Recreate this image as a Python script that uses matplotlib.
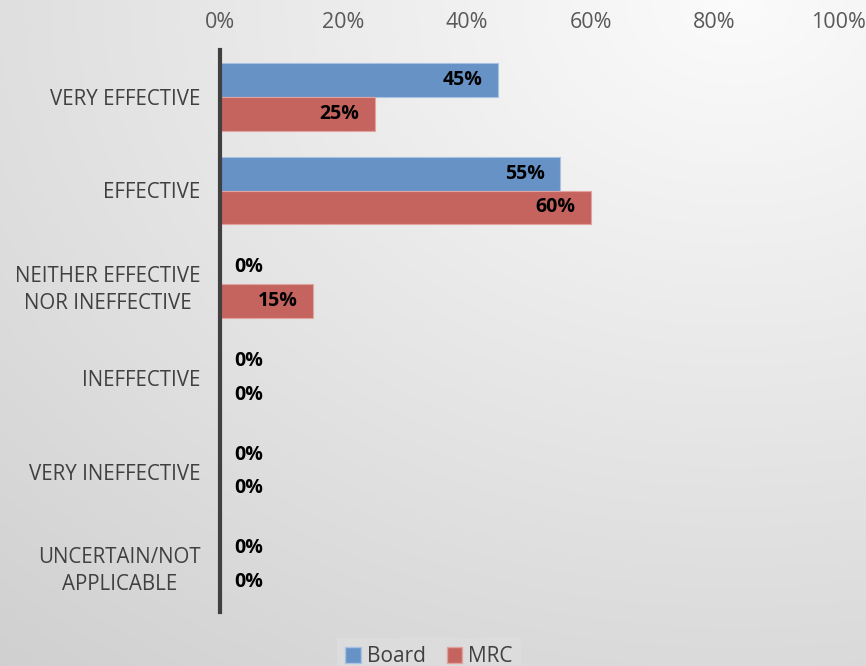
import matplotlib
matplotlib.use("Agg")
import matplotlib.pyplot as plt
import numpy as np
from matplotlib.patches import Patch

categories = ["VERY EFFECTIVE", "EFFECTIVE", "NEITHER EFFECTIVE\nNOR INEFFECTIVE",
              "INEFFECTIVE", "VERY INEFFECTIVE", "UNCERTAIN/NOT\nAPPLICABLE"]
board = [45, 55, 0, 0, 0, 0]
mrc = [25, 60, 15, 0, 0, 0]
xticks = [0, 20, 40, 60, 80, 100]
xtick_labels = ["0%", "20%", "40%", "60%", "80%", "100%"]
series_names = ["Board", "MRC"]

plt.rcParams['font.family'] = ['Open Sans', 'DejaVu Sans']

W, H = 866, 666
fig = plt.figure(figsize=(W / 100, H / 100), dpi=100)

# gradient background
bg = fig.add_axes([0, 0, 1, 1], zorder=-10)
yy, xx = np.mgrid[0:1:300j, 0:1:400j]
d = np.sqrt((xx - 0.85) ** 2 + (yy - 0.0) ** 2)
d = d / d.max()
val = 0.985 - 0.17 * d
img = np.dstack([val, val, val])
bg.imshow(img, aspect='auto', extent=[0, 1, 0, 1], origin='upper')
bg.axis('off')

ax = fig.add_axes([220 / W, 1 - 612 / H, (838 - 220) / W, (612 - 50) / H])
ax.patch.set_alpha(0)

y = np.arange(len(categories))
h = 0.36
blue = "#6792C6"
red = "#C5645F"
b1 = ax.barh(y - h / 2, board, height=h, color=blue, edgecolor="#A9C2E2", linewidth=0.8)
b2 = ax.barh(y + h / 2, mrc, height=h, color=red, edgecolor="#E0A3A0", linewidth=0.8)

for bars, vals in ((b1, board), (b2, mrc)):
    for bar, v in zip(bars, vals):
        yc = bar.get_y() + bar.get_height() / 2
        if v > 0:
            ax.annotate(f"{v}%", (v, yc), xytext=(-11, 0), textcoords='offset points',
                        ha='right', va='center', fontsize=14, fontweight='bold', color='black')
        else:
            ax.annotate(f"{v}%", (v, yc), xytext=(10, 0), textcoords='offset points',
                        ha='left', va='center', fontsize=14, fontweight='bold', color='black')

ax.set_xlim(0, 100)
ax.set_ylim(len(categories) - 0.5, -0.5)
ax.xaxis.tick_top()
ax.set_xticks(xticks)
ax.set_xticklabels(xtick_labels, fontsize=15.5, color="#595959")
ax.tick_params(axis='x', length=0, pad=12)
ax.set_yticks(y)
ax.set_yticklabels(categories, fontsize=14.8, color="#404040", ha='right',
                   multialignment='center', linespacing=1.4)
ax.tick_params(axis='y', length=0, pad=14)
for s in ("top", "right", "bottom"):
    ax.spines[s].set_visible(False)
ax.spines["left"].set_color("#404040")
ax.spines["left"].set_linewidth(3)

handles = [Patch(facecolor=blue, edgecolor="#A9C2E2", label=series_names[0]),
           Patch(facecolor=red, edgecolor="#E0A3A0", label=series_names[1])]
leg = fig.legend(handles=handles, loc='lower center', bbox_to_anchor=(429 / W, -0.03), ncol=2,
                 frameon=True, fontsize=15, handlelength=0.75, handleheight=0.75,
                 handletextpad=0.3, columnspacing=1.0, borderpad=0.4)
leg.get_frame().set_facecolor("#DEDEDE")
leg.get_frame().set_edgecolor("none")
leg.get_frame().set_boxstyle("square", pad=0)
for t in leg.get_texts():
    t.set_color("#404040")

fig.savefig("out.png", dpi=100)
